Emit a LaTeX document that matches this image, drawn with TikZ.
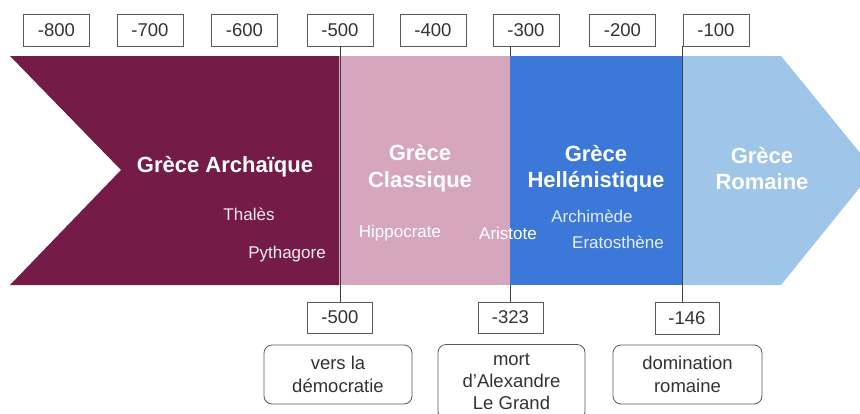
\documentclass[tikz,border=0pt]{standalone}
\usepackage{fontspec}
\setmainfont{Liberation Sans}
\definecolor{maroonc}{HTML}{741B47}
\definecolor{pinkc}{HTML}{D5A6BD}
\definecolor{bluec}{HTML}{3C78D8}
\definecolor{lbluec}{HTML}{9FC5E8}
\definecolor{boxgray}{HTML}{595959}
\definecolor{textgray}{HTML}{333333}
\definecolor{linegray}{HTML}{404040}
\begin{document}
\begin{tikzpicture}[x=1pt,y=-1pt,
  yearbox/.style={draw=boxgray, line width=0.8pt, fill=white, minimum width=66pt, minimum height=32pt, inner sep=0pt, text=textgray, font=\fontsize{18.5}{22}\selectfont},
  notebox/.style={draw=boxgray, line width=0.8pt, rounded corners=8pt, fill=white, minimum width=148pt, minimum height=59pt, inner sep=0pt, align=center, text=textgray, font=\fontsize{18.5}{22.5}\selectfont},
  period/.style={text=white, font=\fontsize{22}{26.5}\selectfont\bfseries, align=center, inner sep=0pt},
  person/.style={text=white, font=\fontsize{17}{20}\selectfont, inner sep=0pt},
  link/.style={draw=linegray, line width=0.8pt}]
\useasboundingbox (0,0) rectangle (860,413);
\clip (0,0) rectangle (860,413);

% top year boxes
\node[yearbox] (t800) at (56.5,30) {-800};
\node[yearbox] (t700) at (150,30) {-700};
\node[yearbox] (t600) at (244.5,30) {-600};
\node[yearbox] (t500) at (340,30) {-500};
\node[yearbox] (t400) at (433,30) {-400};
\node[yearbox] (t300) at (526,30) {-300};
\node[yearbox] (t200) at (622.5,30) {-200};
\node[yearbox] (t100) at (716,30) {-100};

% bottom year boxes
\node[yearbox, minimum width=65pt, minimum height=31pt] (b500) at (340,317.5) {-500};
\node[yearbox, minimum width=65pt, minimum height=31pt] (b323) at (510.5,317.5) {-323};
\node[yearbox, minimum width=64pt, minimum height=32pt] (b146) at (687,318) {-146};

% connector behind the band
\draw[link] (b323.north |- t300.south) -- (b323.north);

% band
\fill[maroonc] (10,56) -- (339,56) -- (339,285) -- (10,285) -- (121,170) -- cycle;
\fill[pinkc] (339,56) rectangle (510,285);
\fill[bluec] (510,56) rectangle (682.5,285);
\fill[lbluec] (682.5,56) -- (781,56) -- (874,170) -- (781,285) -- (682.5,285) -- cycle;

% connectors over the band
\draw[link] (t500.south -| b500.north) -- (b500.north);
\draw[link] (t100.south west) -- (t100.south west |- b146.north);

% periods
\node[period] (arch) at (225,167) {Grèce Archaïque};
\node[period] (class) at (420,168) {Grèce\\Classique};
\node[period] (hell) at (596,168.5) {Grèce\\Hellénistique};
\node[period] (rom) at (762,168.5) {Grèce\\Romaine};

% people
\node[person, text=white!88!maroonc] (thales) at (249,214) {Thalès};
\node[person, text=white!92!maroonc] (pyth) at (287,254) {Pythagore};
\node[person] (hipp) at (400,233) {Hippocrate};
\node[person] (arist) at (508,233) {Aristote};
\node[person, text=white!85!bluec] (archi) at (592,216) {Archimède};
\node[person, text=white!88!bluec] (erato) at (618,242) {Eratosthène};

% notes
\node[notebox] (n1) at (338,374.5) {vers la\\démocratie};
\node[notebox, minimum width=147pt, minimum height=75pt, font=\fontsize{18.5}{22}\selectfont] (n2) at (511.5,382) {mort\\d{\char"27}Alexandre\\Le Grand};
\node[notebox, minimum width=149pt] (n3) at (687.5,374.5) {domination\\romaine};
\end{tikzpicture}
\end{document}
